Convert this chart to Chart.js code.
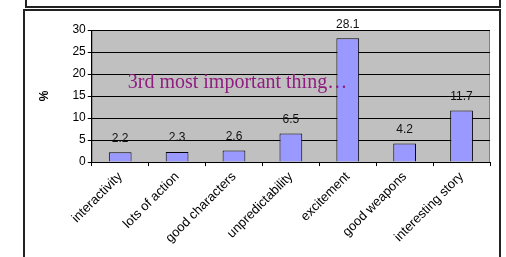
<!DOCTYPE html>
<html><head><meta charset="utf-8">
<script src="https://cdn.jsdelivr.net/npm/chart.js@4.4.1/dist/chart.umd.min.js"></script>
<style>
html,body{margin:0;padding:0;background:#fff;}
#wrap{position:relative;width:506px;height:257px;overflow:hidden;}
#topbox{position:absolute;left:25px;top:-4px;width:472px;height:8px;border:2px solid #222;}
#mainbox{position:absolute;left:23px;top:9px;width:474px;height:260px;border:2px solid #222;}
canvas{position:absolute;left:0;top:0;}
</style></head><body>
<div id="wrap">
<div id="topbox"></div>
<div id="mainbox"></div>
<canvas id="c" width="506" height="257"></canvas>
</div>
<script>
const categories = ["interactivity","lots of action","good characters","unpredictability","excitement","good weapons","interesting story"];
const values = [2.2, 2.3, 2.6, 6.5, 28.1, 4.2, 11.7];
const yTicks = [0,5,10,15,20,25,30];
const annotationText = "3rd most important thing\u2026";

const bgPlugin = {
  id:'bg',
  beforeDraw(chart){
    const {ctx, chartArea:a} = chart;
    ctx.save();
    ctx.fillStyle='#C0C0C0';
    ctx.fillRect(a.left,a.top,a.right-a.left,a.bottom-a.top);
    ctx.strokeStyle='#808080';ctx.lineWidth=1;
    ctx.strokeRect(a.left+0.5,a.top+0.5,a.right-a.left-1,a.bottom-a.top);
    ctx.restore();
  }
};
const labelPlugin = {
  id:'lbl',
  afterDatasetsDraw(chart){
    const {ctx} = chart;
    const meta = chart.getDatasetMeta(0);
    ctx.save();
    ctx.font='12px "Liberation Sans", Arial, sans-serif';
    ctx.fillStyle='#111';
    ctx.textAlign='center';ctx.textBaseline='bottom';
    meta.data.forEach((b,i)=>{ctx.fillText(String(values[i]), b.x, b.y-8);});
    const xs = chart.scales.x, ys = chart.scales.y;
    ctx.font='20px "Liberation Serif", "Times New Roman", serif';
    ctx.fillStyle='#901C80';
    ctx.textAlign='left';ctx.textBaseline='alphabetic';
    ctx.fillText(annotationText, xs.left+36, ys.getPixelForValue(16.8));
    ctx.restore();
  }
};

new Chart(document.getElementById('c'),{
  type:'bar',
  data:{labels:categories,datasets:[{data:values,backgroundColor:'#9999FF',borderColor:'#000',borderWidth:1,categoryPercentage:1,barPercentage:0.4}]},
  options:{
    responsive:false,animation:false,
    layout:{padding:{left:37,right:16,top:30,bottom:8}},
    plugins:{legend:{display:false},tooltip:{enabled:false}},
    scales:{
      x:{
        grid:{offset:true,drawOnChartArea:false,color:'#000',tickLength:4,tickColor:'#000'},
        border:{color:'#000',width:1},
        ticks:{color:'#000',maxRotation:45,minRotation:45,autoSkip:false,padding:3,font:{family:'"Liberation Sans", Arial, sans-serif',size:13}}
      },
      y:{
        min:0,max:30,
        afterBuildTicks(s){s.ticks=yTicks.map(v=>({value:v}));},
        grid:{color:'#000',lineWidth:1,tickLength:4,drawTicks:true,tickColor:'#000'},
        border:{color:'#000',width:1},
        ticks:{color:'#000',padding:2,font:{family:'"Liberation Sans", Arial, sans-serif',size:12}},
        title:{display:true,text:'%',color:'#000',padding:{top:0,bottom:19},font:{family:'"Liberation Sans", Arial, sans-serif',size:12,weight:'bold'}}
      }
    }
  },
  plugins:[bgPlugin,labelPlugin]
});
</script>
</body></html>
